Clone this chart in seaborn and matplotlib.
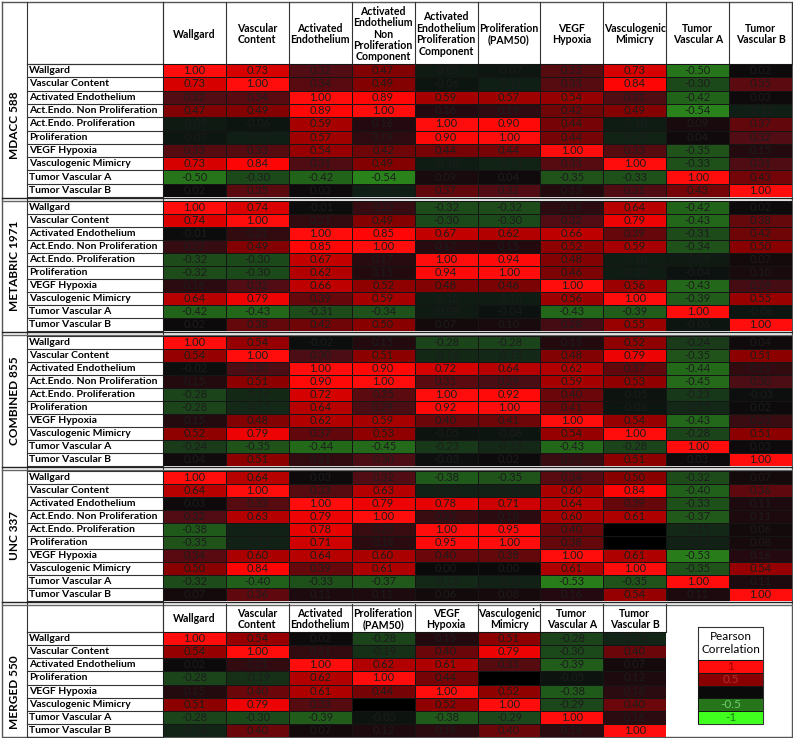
import numpy as np
import pandas as pd
import matplotlib
matplotlib.use("Agg")
import matplotlib.pyplot as plt
import seaborn as sns
from matplotlib.colors import LinearSegmentedColormap

row_names = ["Wallgard", "Vascular Content", "Activated Endothelium",
             "Act.Endo. Non Proliferation", "Act.Endo. Proliferation",
             "Proliferation", "VEGF Hypoxia", "Vasculogenic Mimicry",
             "Tumor Vascular A", "Tumor Vascular B"]
col_names = ["Wallgard", "Vascular\nContent", "Activated\nEndothelium",
             "Activated\nEndothelium\nNon\nProliferation\nComponent",
             "Activated\nEndothelium\nProliferation\nComponent",
             "Proliferation\n(PAM50)", "VEGF\nHypoxia", "Vasculogenic\nMimicry",
             "Tumor\nVascular A", "Tumor\nVascular B"]
merged_rows = ["Wallgard", "Vascular Content", "Activated Endothelium",
               "Proliferation", "VEGF Hypoxia", "Vasculogenic Mimicry",
               "Tumor Vascular A", "Tumor Vascular B"]
merged_cols = ["Wallgard", "Vascular\nContent", "Activated\nEndothelium",
               "Proliferation\n(PAM50)", "VEGF\nHypoxia", "Vasculogenic\nMimicry",
               "Tumor\nVascular A", "Tumor\nVascular B"]

nan = np.nan
mdacc_588 = [
    [1.00, 0.73, 0.32, 0.47, -0.09, -0.07, 0.33, 0.73, -0.50, 0.02],
    [0.73, 1.00, 0.34, 0.49, -0.06, -0.11, 0.33, 0.84, -0.30, 0.35],
    [0.32, 0.34, 1.00, 0.89, 0.59, 0.57, 0.54, 0.31, -0.42, 0.03],
    [0.47, 0.49, 0.89, 1.00, 0.16, 0.19, 0.42, 0.49, -0.54, -0.11],
    [-0.09, -0.06, 0.59, 0.16, 1.00, 0.90, 0.44, -0.10, 0.09, 0.37],
    [-0.07, -0.11, 0.57, 0.19, 0.90, 1.00, 0.44, -0.13, 0.04, 0.32],
    [0.33, 0.33, 0.54, 0.42, 0.44, 0.44, 1.00, 0.33, -0.35, 0.15],
    [0.73, 0.84, 0.31, 0.49, -0.10, -0.13, 0.33, 1.00, -0.33, 0.31],
    [-0.50, -0.30, -0.42, -0.54, 0.09, 0.04, -0.35, -0.33, 1.00, 0.43],
    [0.02, 0.35, 0.03, -0.11, 0.37, 0.32, 0.15, 0.31, 0.43, 1.00],
]
metabric_1971 = [
    [1.00, 0.74, -0.01, 0.22, -0.32, -0.32, 0.18, 0.64, -0.42, 0.02],
    [0.74, 1.00, 0.21, 0.49, -0.30, -0.30, 0.32, 0.79, -0.43, 0.38],
    [-0.01, 0.21, 1.00, 0.85, 0.67, 0.62, 0.66, 0.39, -0.31, 0.42],
    [0.22, 0.49, 0.85, 1.00, 0.17, 0.15, 0.52, 0.59, -0.34, 0.50],
    [-0.32, -0.30, 0.67, 0.17, 1.00, 0.94, 0.48, -0.10, -0.09, 0.07],
    [-0.32, -0.30, 0.62, 0.15, 0.94, 1.00, 0.46, -0.10, -0.04, 0.10],
    [0.18, 0.32, 0.66, 0.52, 0.48, 0.46, 1.00, 0.56, -0.43, 0.28],
    [0.64, 0.79, 0.39, 0.59, -0.10, -0.10, 0.56, 1.00, -0.39, 0.55],
    [-0.42, -0.43, -0.31, -0.34, -0.09, -0.04, -0.43, -0.39, 1.00, -0.06],
    [0.02, 0.38, 0.42, 0.50, 0.07, 0.10, 0.28, 0.55, -0.06, 1.00],
]
combined_855 = [
    [1.00, 0.54, -0.02, 0.15, -0.28, -0.28, 0.15, 0.52, -0.24, 0.04],
    [0.54, 1.00, 0.30, 0.51, -0.16, -0.15, 0.48, 0.79, -0.35, 0.51],
    [-0.02, 0.30, 1.00, 0.90, 0.72, 0.64, 0.62, 0.37, -0.44, 0.21],
    [0.15, 0.51, 0.90, 1.00, 0.35, 0.29, 0.59, 0.53, -0.45, 0.30],
    [-0.28, -0.16, 0.72, 0.35, 1.00, 0.92, 0.40, -0.05, -0.23, -0.03],
    [-0.28, -0.15, 0.64, 0.29, 0.92, 1.00, 0.41, -0.06, -0.15, 0.02],
    [0.15, 0.48, 0.62, 0.59, 0.40, 0.41, 1.00, 0.54, -0.43, 0.23],
    [0.52, 0.79, 0.37, 0.53, -0.05, -0.06, 0.54, 1.00, -0.28, 0.51],
    [-0.24, -0.35, -0.44, -0.45, -0.23, -0.15, -0.43, -0.28, 1.00, 0.03],
    [0.04, 0.51, 0.21, 0.30, -0.03, 0.02, 0.23, 0.51, 0.03, 1.00],
]
unc_337 = [
    [1.00, 0.64, 0.03, 0.32, -0.38, -0.35, 0.34, 0.50, -0.32, 0.07],
    [0.64, 1.00, 0.33, 0.63, -0.12, -0.12, 0.60, 0.84, -0.40, 0.36],
    [0.03, 0.33, 1.00, 0.79, 0.78, 0.71, 0.64, 0.39, -0.33, 0.11],
    [0.32, 0.63, 0.79, 1.00, 0.23, 0.18, 0.60, 0.61, -0.37, 0.11],
    [-0.38, -0.12, 0.78, 0.23, 1.00, 0.95, 0.40, nan, -0.15, 0.06],
    [-0.35, -0.12, 0.71, 0.18, 0.95, 1.00, 0.38, nan, -0.12, 0.08],
    [0.34, 0.60, 0.64, 0.60, 0.40, 0.38, 1.00, 0.61, -0.53, 0.16],
    [0.50, 0.84, 0.39, 0.61, 0.00, 0.00, 0.61, 1.00, -0.35, 0.54],
    [-0.32, -0.40, -0.33, -0.37, -0.15, -0.12, -0.53, -0.35, 1.00, 0.11],
    [0.07, 0.36, 0.11, 0.11, 0.06, 0.08, 0.16, 0.54, 0.11, 1.00],
]
merged_550 = [
    [1.00, 0.54, 0.02, -0.28, 0.15, 0.51, -0.28, -0.14],
    [0.54, 1.00, 0.21, -0.19, 0.40, 0.79, -0.30, 0.40],
    [0.02, 0.21, 1.00, 0.62, 0.61, 0.33, -0.39, 0.07],
    [-0.28, -0.19, 0.62, 1.00, 0.44, nan, -0.05, 0.12],
    [0.15, 0.40, 0.61, 0.44, 1.00, 0.52, -0.38, 0.18],
    [0.51, 0.79, 0.33, nan, 0.52, 1.00, -0.29, 0.40],
    [-0.28, -0.30, -0.39, -0.05, -0.38, -0.29, 1.00, 0.18],
    [-0.14, 0.40, 0.07, 0.12, 0.18, 0.40, 0.18, 1.00],
]
legend_values = [1, 0.5, 0, -0.5, -1]
legend_labels = ["1", "0.5", "", "-0.5", "-1"]

plt.rcParams["font.family"] = ["Lato", "DejaVu Sans"]

# red / black / green scale like the excel conditional format
nodes = [(-1.0, (0.25, 1.0, 0.12)), (-0.5, (0.15, 0.46, 0.10)),
         (-0.25, (0.10, 0.24, 0.10)), (-0.1, (0.06, 0.11, 0.08)),
         (0.0, (0.04, 0.04, 0.04)), (0.15, (0.13, 0.04, 0.06)),
         (0.3, (0.30, 0.05, 0.08)), (0.5, (0.53, 0.0, 0.0)),
         (0.73, (0.84, 0.0, 0.0)), (0.85, (1.0, 0.02, 0.02)),
         (1.0, (1.0, 0.05, 0.05))]
cmap = LinearSegmentedColormap.from_list("rbg", [((v + 1) / 2, c) for v, c in nodes])

W, H = 793, 738
fig = plt.figure(figsize=(W / 100, H / 100), dpi=100)
bg = fig.add_axes([0, 0, 1, 1])
bg.set_xlim(0, W)
bg.set_ylim(H, 0)
bg.axis("off")

def px_axes(x0, y0, x1, y1):
    return fig.add_axes([x0 / W, 1 - y1 / H, (x1 - x0) / W, (y1 - y0) / H])

def draw_heat(data, rows, cols, x0, y0, x1, y1):
    ax = px_axes(x0, y0, x1, y1)
    df = pd.DataFrame(data, index=rows, columns=cols)
    sns.heatmap(df, ax=ax, cmap=cmap, vmin=-1, vmax=1, annot=True, fmt=".2f",
                cbar=False, linewidths=0.5, linecolor="#151515",
                xticklabels=False, yticklabels=False,
                annot_kws={"fontsize": 8, "color": "#1c1c1c"})
    ax.set_facecolor("black")
    ax.set_xlabel("")
    ax.set_ylabel("")
    return ax

lc = "#333333"
x_lab, x_data, x_end = 27, 163, 792
cw = (x_end - x_data) / 10

def header(cols, y0, y1):
    for j, name in enumerate(cols):
        bg.text(x_data + (j + 0.5) * cw, (y0 + y1) / 2 + 1, name, ha="center", va="center",
                fontsize=7.6, fontweight="bold", linespacing=1.05)
        bg.plot([x_data + j * cw] * 2, [y0, y1], color=lc, lw=0.8)
    bg.plot([x_data + len(cols) * cw] * 2, [y0, y1], color=lc, lw=0.8)
    bg.plot([x_lab, x_data + len(cols) * cw], [y1, y1], color=lc, lw=0.8)

def row_labels(rows, y0, y1):
    rh = (y1 - y0) / len(rows)
    for i, name in enumerate(rows):
        bg.text(x_lab + 2, y0 + (i + 0.5) * rh, name, ha="left", va="center",
                fontsize=7.5, fontweight="bold")
        bg.plot([x_lab, x_data], [y0 + i * rh] * 2, color=lc, lw=0.8)
    bg.plot([x_lab, x_data], [y1, y1], color=lc, lw=0.8)

# frame
bg.plot([2, 792, 792, 2, 2], [2, 2, 737, 737, 2], color="#555555", lw=1)
bg.plot([x_lab, x_lab], [2, 737], color=lc, lw=0.8)
bg.plot([x_data, x_data], [2, 737], color=lc, lw=0.8)

header(col_names, 2, 64)

blocks = [("MDACC 588", mdacc_588, 64, 197, 125),
          ("METABRIC 1971", metabric_1971, 201, 331, 266),
          ("COMBINED 855", combined_855, 336, 466, 401),
          ("UNC 337", unc_337, 471, 601, 536)]
for name, data, y0, y1, yc in blocks:
    draw_heat(data, row_names, col_names, x_data, y0, x_end, y1)
    row_labels(row_names, y0, y1)
    bg.text(15, yc, name, rotation=90, ha="center", va="center",
            fontsize=8.5, fontweight="bold")
    # double separator line under each block
    bg.plot([2, 792], [y1 + 0.8, y1 + 0.8], color="#222222", lw=1.0)
    bg.plot([2, 792], [y1 + 3.6, y1 + 3.6], color="#666666", lw=1.0)

# merged block
header(merged_cols, 604, 632)
draw_heat(merged_550, merged_rows, merged_cols, x_data, 632, x_data + 8 * cw, 737)
row_labels(merged_rows, 632, 737)
bg.text(15, 692, "MERGED 550", rotation=90, ha="center", va="center",
        fontsize=8.5, fontweight="bold")

# legend
lax = px_axes(698, 660, 763, 724)
sns.heatmap(pd.DataFrame({"r": legend_values}), ax=lax, cmap=cmap, vmin=-1, vmax=1,
            annot=np.array(legend_labels).reshape(-1, 1), fmt="", cbar=False,
            linewidths=0.5, linecolor="#151515", xticklabels=False, yticklabels=False,
            annot_kws={"fontsize": 8.5})
for t, c in zip(lax.texts, ["#a00000", "#b03030", "#000000", "#6fcf6f", "#1a7a1a"]):
    t.set_color(c)
lax.set_xlabel("")
lax.set_ylabel("")
bg.plot([698, 763, 763, 698, 698], [627, 627, 724, 724, 627], color=lc, lw=0.8)
bg.plot([698, 763], [660, 660], color=lc, lw=0.8)
bg.text(730.5, 643, "Pearson\nCorrelation", ha="center", va="center", fontsize=8.5,
        linespacing=1.2)

fig.savefig("out.png", dpi=100)
